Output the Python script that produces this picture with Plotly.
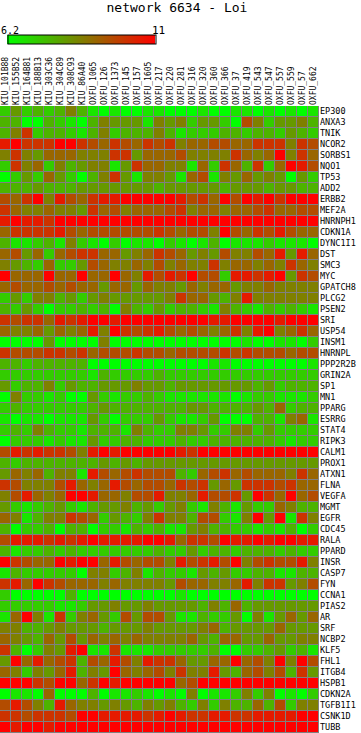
import plotly.graph_objects as go

TITLE = "network 6634 - Loi"
VMIN, VMAX = 6.2, 11

samples = ["KIU_101B88","KIU_155B52","KIU_164B81","KIU_188B13","KIU_303C36","KIU_304C89","KIU_308C93","KIU_86A40",
           "OXFU_1065","OXFU_126","OXFU_1373","OXFU_145","OXFU_157","OXFU_1605","OXFU_217","OXFU_220","OXFU_281",
           "OXFU_316","OXFU_320","OXFU_360","OXFU_366","OXFU_37","OXFU_419","OXFU_543","OXFU_547","OXFU_557",
           "OXFU_559","OXFU_57","OXFU_662"]

# colour level read from each cell: 0 = pure green (VMIN) ... 10 = pure red (VMAX)
levels = {
"EP300":[2,4,2,3,2,3,5,3,1,0,1,0,0,1,1,0,0,0,1,0,0,1,1,0,1,0,1,0,1],
"ANXA3":[3,3,0,0,3,2,1,0,3,5,4,4,4,1,5,4,5,2,4,4,2,0,7,5,2,4,4,5,3],
"TNIK":[3,5,8,2,3,3,2,1,3,5,2,3,3,3,5,3,1,2,2,2,3,3,2,3,3,2,4,3,2],
"NCOR2":[9,10,8,8,8,10,10,8,7,6,8,7,6,8,7,8,5,6,6,7,7,6,6,8,8,8,5,8,7],
"SORBS1":[5,8,5,4,6,6,6,5,5,5,8,8,4,6,6,6,7,5,5,5,5,8,6,5,6,10,5,8,6],
"NQO1":[2,8,5,6,2,5,3,4,5,5,1,4,8,6,6,5,5,1,6,2,8,6,3,8,2,6,10,9,7],
"TP53":[0,2,4,2,6,4,2,0,3,5,8,4,1,5,5,4,1,6,7,1,5,4,6,4,5,4,0,4,2],
"ADD2":[3,3,3,4,3,3,3,4,4,4,4,4,4,4,3,4,4,4,4,4,3,4,4,4,3,4,4,3,3],
"ERBB2":[7,6,8,10,5,9,7,6,8,9,9,10,10,10,10,10,9,7,8,6,10,7,10,9,10,8,10,10,10],
"MEF2A":[8,6,5,5,6,5,5,4,8,6,7,5,6,6,6,7,8,5,6,6,5,6,6,7,8,6,6,7,7],
"HNRNPH1":[9,10,9,9,8,10,10,10,10,10,10,10,10,10,10,10,10,10,10,10,10,10,10,10,10,10,10,10,10],
"CDKN1A":[6,8,8,8,8,9,7,6,7,7,7,7,7,7,8,7,6,7,7,5,10,7,6,8,7,9,7,6,6],
"DYNC1I1":[3,1,1,2,3,1,5,2,1,0,2,0,1,1,0,2,1,0,1,3,0,1,1,1,2,1,1,1,0],
"DST":[6,7,4,6,2,6,7,8,8,6,6,4,5,6,8,7,6,4,5,4,7,5,5,7,6,9,4,9,6],
"SMC3":[5,4,3,2,6,2,2,4,7,6,5,5,6,5,7,5,6,5,5,8,5,6,6,5,6,5,8,6,5],
"MYC":[10,6,6,6,10,6,6,10,6,6,10,6,5,9,7,9,8,10,7,7,2,9,9,8,9,10,4,8,7],
"GPATCH8":[6,7,6,6,7,6,7,6,6,4,6,6,4,6,5,5,4,6,5,6,6,4,5,5,6,5,5,5,5],
"PLCG2":[2,4,2,5,5,3,4,2,4,5,4,4,4,4,4,5,8,6,6,4,3,5,9,5,5,5,5,5,5],
"PSEN2":[3,2,4,2,0,2,2,3,2,3,0,5,3,2,4,2,3,3,2,1,5,3,2,1,3,2,3,2,1],
"SRI":[8,7,8,8,6,9,8,9,10,10,9,10,10,10,10,10,10,10,10,9,9,10,10,10,10,9,10,10,10],
"USP54":[6,5,5,6,4,6,5,6,9,5,10,8,7,8,9,7,6,7,6,5,6,8,5,9,10,5,6,8,6],
"INSM1":[0,0,0,0,4,0,0,0,0,5,0,0,0,0,0,0,0,0,0,0,0,0,1,0,0,1,1,0,2],
"HNRNPL":[8,7,7,7,8,8,7,8,6,7,7,7,8,7,7,6,7,7,7,7,8,7,8,7,7,7,6,7,7],
"PPP2R2B":[3,3,2,3,3,3,3,3,0,0,0,0,0,0,0,0,0,0,0,1,1,0,0,0,0,0,0,0,1],
"GRIN2A":[2,2,2,2,2,2,2,2,1,3,2,2,2,2,3,2,2,2,2,2,2,2,2,2,2,2,2,2,2],
"SP1":[4,2,3,3,5,2,4,3,3,4,4,4,5,4,4,3,4,4,4,4,4,4,4,3,4,2,3,3,3],
"MN1":[0,5,2,2,1,2,0,0,4,2,1,2,2,3,2,1,1,1,1,1,1,0,1,2,2,1,1,1,2],
"PPARG":[2,3,2,2,2,2,2,2,3,4,3,3,3,3,3,3,3,4,4,3,3,3,3,4,3,6,2,3,3],
"ESRRG":[1,0,1,1,0,1,1,1,4,2,0,2,2,2,4,2,1,1,2,4,0,0,0,3,3,1,5,6,1],
"STAT4":[2,3,2,5,3,2,2,1,3,3,3,1,5,3,2,2,5,5,4,2,2,5,5,2,4,2,2,2,2],
"RIPK3":[0,2,2,2,1,2,1,1,4,2,2,3,3,2,2,2,3,2,2,3,3,3,3,3,3,2,1,2,2],
"CALM1":[7,9,8,9,8,8,7,5,9,10,9,10,10,10,10,10,9,8,10,10,10,10,10,10,10,10,10,10,10],
"PROX1":[3,2,3,3,3,3,3,3,3,4,3,4,3,4,4,4,4,4,4,4,4,4,4,4,4,4,4,4,4],
"ATXN1":[4,6,5,6,3,5,5,1,9,7,6,7,8,7,7,7,3,2,6,7,8,6,7,6,6,6,5,8,6],
"FLNA":[8,7,5,5,5,7,9,6,5,6,9,7,6,7,7,6,8,7,8,4,6,4,8,8,8,7,8,6,6],
"VEGFA":[5,7,9,6,5,6,10,10,9,6,6,5,7,7,9,5,5,6,9,7,7,8,4,10,8,6,10,6,7],
"MGMT":[4,2,1,2,3,4,2,1,3,4,4,5,3,4,2,4,5,2,1,5,3,1,4,2,2,6,5,3,3],
"EGFR":[6,5,1,3,5,5,8,7,6,2,4,3,2,5,8,5,5,3,7,7,2,1,5,10,4,10,1,8,5],
"CDC45":[3,0,2,2,3,0,3,3,0,2,2,1,3,2,3,1,1,4,5,3,3,2,2,1,2,1,3,0,2],
"RALA":[7,9,9,9,8,9,8,9,10,9,9,9,9,10,10,9,6,8,8,7,10,9,9,10,9,10,10,9,9],
"PPARD":[3,1,2,2,3,2,3,2,2,2,2,2,2,2,3,2,2,4,2,3,3,2,3,3,3,2,3,2,2],
"INSR":[10,8,7,6,6,10,9,10,10,6,9,7,6,7,7,5,9,7,8,9,7,10,5,7,8,7,7,9,5],
"CASP7":[1,3,2,2,2,2,2,0,5,5,2,3,5,1,3,2,2,1,4,3,4,2,2,3,3,1,1,3,3],
"FYN":[8,9,6,10,8,7,6,6,6,5,6,5,5,5,5,4,7,6,6,5,5,6,9,5,8,8,4,5,7],
"CCNA1":[2,0,0,0,0,0,3,0,0,0,0,0,0,0,0,0,1,0,0,0,0,0,0,0,0,0,0,0,0],
"PIAS2":[2,2,2,2,2,1,1,2,4,4,5,4,4,5,4,4,4,4,3,5,3,6,3,4,4,4,4,4,4],
"AR":[1,6,10,5,1,8,2,5,6,4,2,7,4,7,7,4,1,1,3,2,2,4,0,5,1,4,6,4,6],
"SRF":[5,5,3,3,4,5,4,4,4,3,4,4,4,5,4,4,4,4,5,6,3,4,4,4,4,6,4,4,4],
"NCBP2":[6,5,4,3,6,4,7,4,6,5,6,5,6,5,5,5,5,6,4,3,6,6,4,4,6,4,4,5,5],
"KLF5":[8,3,0,2,5,4,9,10,1,1,8,1,1,1,2,2,2,2,2,3,0,0,2,2,3,4,2,3,1],
"FHL1":[4,10,6,9,6,7,8,3,7,6,9,7,5,9,8,8,6,4,4,6,6,10,6,7,5,10,5,10,7],
"ITGB4":[6,5,2,5,4,6,9,3,5,4,10,6,5,6,7,5,8,5,5,9,4,3,6,7,5,7,3,8,4],
"HSPB1":[10,10,10,8,7,10,10,6,8,10,9,10,10,10,10,10,6,7,10,10,10,10,10,10,10,10,10,10,10],
"CDKN2A":[0,1,1,0,6,0,0,0,3,0,1,1,2,1,0,1,0,5,0,1,1,2,5,2,5,0,1,0,2],
"TGFB1I1":[7,9,7,5,3,9,6,5,5,4,5,4,3,5,4,5,3,2,5,2,5,3,3,6,3,7,2,5,5],
"CSNK1D":[8,8,7,8,8,8,7,10,10,9,9,9,9,8,9,10,9,8,8,9,9,8,8,9,9,9,9,10,10],
"TUBB":[10,9,10,10,9,10,10,10,10,10,10,10,10,10,10,10,10,10,10,10,10,10,10,10,10,10,10,10,10],
}

genes = list(levels)
z = [[VMIN + v / 10 * (VMAX - VMIN) for v in levels[g]] for g in genes]

FONT = "DejaVu Sans Mono"

fig = go.Figure(go.Heatmap(
    z=z, x=samples, y=genes,
    zmin=VMIN, zmax=VMAX,
    colorscale=[[0, "#00ff00"], [1, "#ff0000"]],
    xgap=1, ygap=1,
    colorbar=dict(
        orientation="h", xref="container", yref="container",
        x=8 / 361, xanchor="left", y=1 - 35 / 733, yanchor="top",
        lenmode="pixels", len=148, thicknessmode="pixels", thickness=9,
        showticklabels=False, ticks="",
        outlinecolor="#000", outlinewidth=1, borderwidth=0, xpad=0, ypad=0,
    ),
))
fig.update_layout(
    width=361, height=733,
    margin=dict(l=0, r=42, t=106, b=0, pad=0, autoexpand=False),
    paper_bgcolor="#ffffff", plot_bgcolor="#808080",
    title=dict(text=TITLE, x=177 / 361, xanchor="center", y=1 - 7 / 733, yanchor="middle",
               font=dict(family=FONT, size=13, color="#000")),
    xaxis=dict(side="top", tickangle=-90, ticks="", showgrid=False, zeroline=False, showline=False,
               tickfont=dict(family=FONT, size=8, color="#000"), tickmode="array",
               tickvals=samples, ticktext=samples, automargin=False),
    yaxis=dict(side="right", autorange="reversed", ticks="", showgrid=False, zeroline=False, showline=False,
               tickfont=dict(family=FONT, size=8.5, color="#000"), tickmode="array",
               tickvals=genes, ticktext=genes, automargin=False),
    annotations=[
        dict(text=f"{VMIN}", xref="paper", yref="paper", x=9.5 / 319, y=1 + 76 / 627, xanchor="center", yanchor="middle",
             showarrow=False, font=dict(family=FONT, size=10, color="#000")),
        dict(text=f"{VMAX}", xref="paper", yref="paper", x=158 / 319, y=1 + 76 / 627, xanchor="center", yanchor="middle",
             showarrow=False, font=dict(family=FONT, size=11, color="#000")),
    ],
)
fig.write_html("out.html", post_script="document.body.style.margin='0';", config={"displayModeBar": False})
